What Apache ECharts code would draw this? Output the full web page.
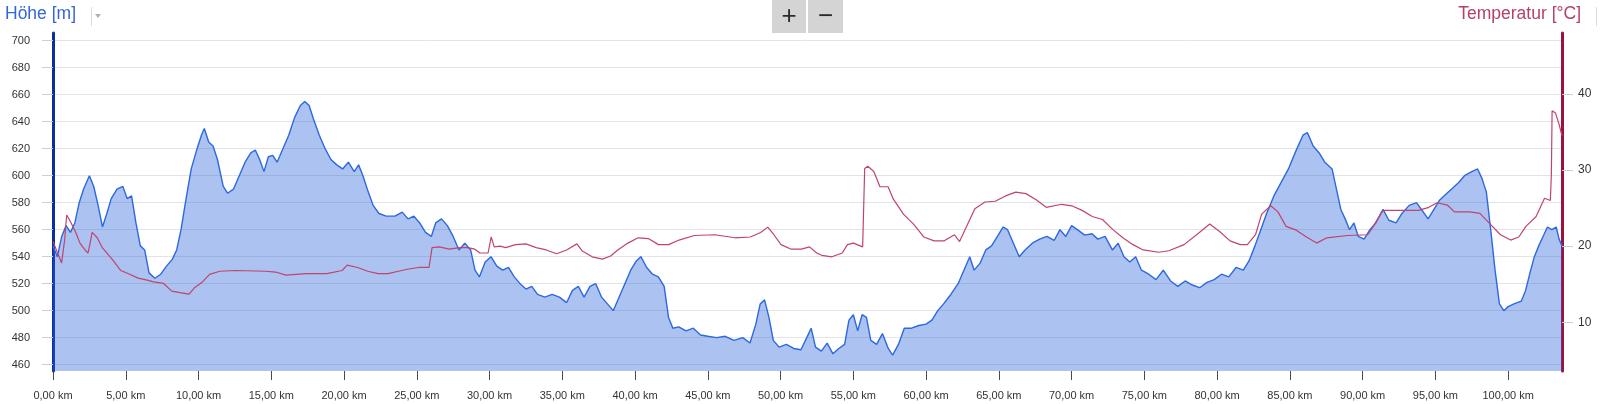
<!DOCTYPE html>
<html>
<head>
<meta charset="utf-8">
<script src="https://cdn.jsdelivr.net/npm/echarts@6/dist/echarts.min.js"></script>
<style>
html,body{margin:0;padding:0;background:#fff;}
#chart{width:1600px;height:404px;}
</style>
</head>
<body>
<div id="chart"></div>
<script>
// ---- data ----
const elevKm = [0,0.3,0.6,0.9,1.2,1.5,1.8,2.1,2.5,2.8,3.1,3.4,3.7,4.0,4.4,4.8,5.1,5.4,5.7,6.0,6.3,6.6,7.0,7.4,7.8,8.2,8.5,8.8,9.1,9.5,9.9,10.2,10.4,10.7,11.0,11.3,11.7,12.0,12.4,12.8,13.2,13.6,13.9,14.2,14.5,14.8,15.1,15.4,15.8,16.2,16.6,17.0,17.3,17.6,17.9,18.3,18.7,19.1,19.5,19.9,20.3,20.7,21.0,21.3,21.6,22.0,22.4,22.9,23.5,24.0,24.4,24.8,25.2,25.6,26.0,26.3,26.7,27.1,27.5,27.9,28.3,28.7,29.0,29.3,29.7,30.1,30.5,30.9,31.3,31.7,32.1,32.5,32.9,33.3,33.8,34.3,34.8,35.3,35.7,36.1,36.5,36.9,37.3,37.7,38.1,38.5,38.9,39.3,39.7,40.1,40.4,40.8,41.2,41.6,42.0,42.3,42.6,43.0,43.5,44.0,44.5,45.0,45.6,46.2,46.8,47.4,47.9,48.3,48.6,48.9,49.2,49.5,49.9,50.4,50.9,51.4,51.8,52.1,52.4,52.8,53.2,53.6,54.0,54.4,54.7,55.0,55.3,55.6,55.9,56.2,56.6,57.0,57.4,57.7,58.1,58.5,59.0,59.5,60.0,60.4,60.8,61.2,61.7,62.2,62.6,63.0,63.3,63.7,64.1,64.5,64.9,65.3,65.6,66.0,66.4,66.8,67.3,67.8,68.3,68.8,69.2,69.6,70.0,70.4,70.9,71.4,71.8,72.3,72.8,73.2,73.6,74.0,74.4,74.8,75.3,75.8,76.3,76.8,77.3,77.8,78.3,78.8,79.3,79.8,80.3,80.8,81.3,81.8,82.2,82.6,83.0,83.4,83.9,84.4,84.9,85.4,85.9,86.2,86.6,87.0,87.4,87.9,88.2,88.5,88.8,89.1,89.4,89.7,90.1,90.5,90.9,91.4,91.8,92.3,92.7,93.2,93.7,94.1,94.5,94.9,95.3,95.7,96.1,96.6,97.0,97.5,97.9,98.2,98.5,98.8,99.1,99.4,99.7,100.0,100.4,100.9,101.2,101.5,101.8,102.1,102.4,102.7,103.0,103.3,103.5,103.7];
const elevM = [548,540,555,563,558,565,580,590,600,592,578,562,572,583,590,592,583,585,565,548,545,528,524,527,533,538,545,560,580,605,620,630,635,625,622,612,592,587,590,600,610,617,619,612,603,614,615,610,620,630,643,652,655,652,642,630,620,612,608,605,610,603,608,600,590,578,572,570,570,573,568,570,565,558,555,565,568,563,555,545,550,545,530,525,536,540,533,530,532,525,520,516,518,512,510,512,510,506,515,518,510,518,520,510,505,500,510,520,530,537,540,532,527,525,518,495,487,488,485,487,482,481,480,481,478,480,476,490,505,508,495,478,473,475,472,471,480,487,473,470,476,468,472,475,493,497,485,497,495,478,475,483,472,467,475,487,487,489,490,493,500,505,512,520,530,540,530,535,545,548,555,562,560,550,540,545,550,553,555,552,560,555,563,560,556,557,553,555,545,550,540,536,540,530,527,523,530,522,518,522,519,517,521,523,527,525,532,530,537,548,560,572,585,595,605,618,630,632,622,617,610,605,590,575,568,560,565,555,553,560,565,575,567,565,572,578,580,574,568,575,582,586,590,595,600,603,605,598,588,560,530,505,500,503,505,507,515,528,540,548,555,562,560,562,553,548];
const tempKm = [0,0.59,0.8,0.94,1.15,1.57,1.85,2.2,2.41,2.55,2.69,3.04,3.39,4.1,4.66,5.15,5.85,6.55,6.9,7.6,8.16,8.72,9.35,9.7,10.27,10.76,11.46,12.51,14.6,15.3,16.0,17.42,18.82,19.87,20.22,20.93,21.63,22.33,23.03,23.73,24.43,25.13,25.84,26.05,26.54,27.24,27.94,28.5,28.99,29.34,29.9,30.11,30.32,30.74,31.09,31.8,32.5,33.2,33.9,34.6,35.3,36.0,36.35,37.05,37.76,38.32,38.81,39.51,40.21,40.91,41.61,42.31,43.02,44.07,45.47,46.87,47.92,48.63,49.12,49.54,50.03,50.73,51.43,51.99,52.48,52.83,53.53,54.24,54.59,55.01,55.64,55.78,55.99,56.41,56.83,57.39,57.74,58.44,59.14,59.85,60.55,61.25,61.95,62.3,62.86,63.35,64.05,64.75,65.46,66.16,66.86,67.56,68.26,69.31,70.01,70.72,71.42,72.12,72.82,73.52,74.22,74.92,75.98,76.68,77.73,78.78,79.49,80.19,80.89,81.59,82.08,82.64,83.06,83.69,84.18,84.74,85.44,86.14,86.84,87.54,88.95,90.35,90.7,91.4,92.45,93.85,94.55,95.11,95.82,96.31,97.36,98.06,98.77,99.47,100.17,100.73,101.22,101.92,102.5,102.9,102.97,103.02,103.25,103.5,103.7];
const tempC = [20.6,17.8,20.8,24.1,23.4,21.8,20.4,19.5,19.1,20.4,21.8,21.1,19.8,18.2,16.8,16.4,15.8,15.5,15.3,15.1,14.1,13.9,13.7,14.5,15.3,16.3,16.7,16.8,16.7,16.6,16.2,16.4,16.4,16.8,17.5,17.2,16.7,16.4,16.4,16.7,17.0,17.2,17.2,19.8,19.9,19.6,19.8,19.8,19.6,19.1,19.1,21.2,19.9,20.0,19.8,20.2,20.3,19.8,19.5,19.0,19.5,20.3,19.4,18.6,18.3,18.7,19.5,20.4,21.1,21.0,20.2,20.2,20.8,21.4,21.5,21.1,21.2,21.8,22.5,21.5,20.2,19.6,19.6,19.9,19.1,18.8,18.6,19.1,20.2,20.4,19.9,30.2,30.5,29.8,27.8,27.8,26.2,24.2,22.9,21.2,20.7,20.7,21.5,20.6,22.9,24.9,25.8,25.9,26.6,27.1,26.9,26.1,25.1,25.5,25.3,24.7,23.9,23.5,22.2,21.1,20.2,19.5,19.2,19.4,20.2,21.8,22.9,21.9,20.7,20.2,20.2,21.5,24.2,25.3,24.5,22.6,22.1,21.2,20.4,21.1,21.4,21.5,22.5,24.7,24.7,24.7,25.1,25.7,25.4,24.5,24.5,24.3,22.9,21.5,20.8,21.2,22.6,23.9,26.3,26.0,29.5,37.8,37.5,36.0,34.5];
const distTicks = [0,5,10,15,20,25,30,35,40,45,50,55,60,65,70,75,80,85,90,95,100];
const elevTicks = [460,480,500,520,540,560,580,600,620,640,660,680,700];
const tempTicks = [10,20,30,40];
const elevTitle = 'Höhe [m]';
const tempTitle = 'Temperatur [°C]';

const elevData = elevKm.map((k, i) => [k, elevM[i]]);
const tempData = tempKm.map((k, i) => [k, tempC[i]]);

const FONT = 'Liberation Sans, Arial, sans-serif';
const chart = echarts.init(document.getElementById('chart'), null, {renderer: 'canvas'});
chart.setOption({
  animation: false,
  backgroundColor: '#ffffff',
  grid: {left: 53, right: 38, top: 33, bottom: 33, containLabel: false},
  xAxis: {
    type: 'value', min: 0, max: 103.7,
    axisLine: {show: false, onZero: false},
    axisTick: {show: true, customValues: distTicks, length: 9, lineStyle: {color: '#4a4a4a', width: 1}},
    axisLabel: {customValues: distTicks, margin: 19, color: '#333', fontSize: 11, fontFamily: FONT,
      formatter: v => v.toFixed(2).replace('.', ',') + ' km'},
    splitLine: {show: false}
  },
  yAxis: [{
    type: 'value', min: 455.3, max: 705.7, position: 'left',
    axisLine: {show: true, onZero: false, lineStyle: {color: '#0b2f9f', width: 3}},
    axisTick: {show: true, customValues: elevTicks, length: 11, lineStyle: {color: '#c3d1e3'}},
    axisLabel: {customValues: elevTicks, margin: 23, color: '#333', fontSize: 11, fontFamily: FONT},
    splitLine: {show: true, lineStyle: {color: '#e4e4e4', width: 1}}
  }, {
    type: 'value', min: 3.6, max: 48.0, position: 'right',
    axisLine: {show: true, onZero: false, lineStyle: {color: '#9a1240', width: 3}},
    axisTick: {show: true, customValues: tempTicks, length: 11, lineStyle: {color: '#c3d1e3'}},
    axisLabel: {customValues: tempTicks, margin: 16, color: '#333', fontSize: 12, fontFamily: FONT},
    splitLine: {show: false}
  }],
  series: [{
    type: 'line', name: elevTitle, yAxisIndex: 0, data: elevData,
    showSymbol: false, symbol: 'none', smooth: false,
    lineStyle: {color: '#2c68df', width: 1.4},
    areaStyle: {color: 'rgba(40,99,219,0.39)', opacity: 1, origin: 'start'},
    z: 2
  }, {
    type: 'line', name: tempTitle, yAxisIndex: 1, data: tempData,
    showSymbol: false, symbol: 'none', smooth: false,
    lineStyle: {color: '#c0446d', width: 1.2},
    z: 3
  }],
  graphic: [
    {type: 'text', left: 5, top: 5, style: {text: elevTitle, fill: '#3566d9', fontSize: 17.5, fontFamily: FONT}},
    {type: 'line', shape: {x1: 91.5, y1: 7, x2: 91.5, y2: 26}, style: {stroke: '#dcdcdc', lineWidth: 1}},
    {type: 'polygon', shape: {points: [[95, 14], [101, 14], [98, 18]]}, style: {fill: '#b0b0b0'}},
    {type: 'text', right: 19, top: 5, style: {text: tempTitle, fill: '#b5416b', fontSize: 17.5, fontFamily: FONT}},
    {type: 'line', shape: {x1: 1596.5, y1: 7, x2: 1596.5, y2: 26}, style: {stroke: '#dcdcdc', lineWidth: 1}},
    {type: 'rect', shape: {x: 772, y: 0, width: 34, height: 33}, style: {fill: '#d4d4d4'}},
    {type: 'rect', shape: {x: 808, y: 0, width: 35, height: 33}, style: {fill: '#d4d4d4'}},
    {type: 'text', x: 789, y: 17, style: {text: '+', fill: '#2b2b2b', fontSize: 26, fontFamily: FONT, align: 'center', verticalAlign: 'middle'}},
    {type: 'text', x: 825.5, y: 17, style: {text: '−', fill: '#2b2b2b', fontSize: 26, fontFamily: FONT, align: 'center', verticalAlign: 'middle'}}
  ]
});
</script>
</body>
</html>
